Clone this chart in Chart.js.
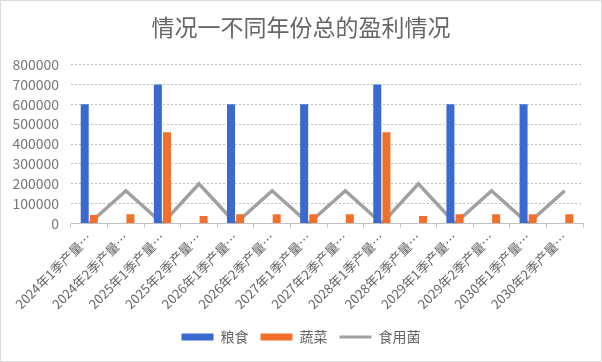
<!DOCTYPE html>
<html>
<head>
<meta charset="utf-8">
<script src="https://cdn.jsdelivr.net/npm/chart.js@4"></script>
<style>
html,body{margin:0;padding:0;background:#fff;}
#wrap{width:602px;height:362px;position:relative;}
</style>
</head>
<body>
<div id="wrap"><canvas id="c" width="602" height="362"></canvas></div>
<script>
const categories = ["2024年1季产量","2024年2季产量","2025年1季产量","2025年2季产量","2026年1季产量","2026年2季产量","2027年1季产量","2027年2季产量","2028年1季产量","2028年2季产量","2029年1季产量","2029年2季产量","2030年1季产量","2030年2季产量"];
const grain = [600000,0,700000,0,600000,0,600000,0,700000,0,600000,0,600000,0];
const vegetables = [43000,46000,460000,38000,46000,46000,46000,46000,460000,38000,46000,46000,46000,46000];
const mushrooms = [0,165000,0,200000,0,165000,0,165000,0,200000,0,165000,0,165000];
const yTicks = [0,100000,200000,300000,400000,500000,600000,700000,800000];

const FONT = '"Noto Sans CJK SC", "Liberation Sans", sans-serif';

const borderPlugin = {
  id: 'outerBorder',
  afterDraw(chart) {
    const ctx = chart.ctx;
    ctx.save();
    ctx.strokeStyle = '#b8b8b8';
    ctx.lineWidth = 1;
    ctx.setLineDash([1,1]);
    ctx.strokeRect(0.5, 0.5, chart.width - 1, chart.height - 1);
    ctx.restore();
  }
};

new Chart(document.getElementById('c'), {
  type: 'bar',
  data: {
    labels: categories,
    datasets: [
      { label: '粮食', data: grain, backgroundColor: '#3A6AD0', categoryPercentage: 0.5, barPercentage: 0.875 },
      { label: '蔬菜', data: vegetables, backgroundColor: '#F2702C', categoryPercentage: 0.5, barPercentage: 0.875 },
      { label: '食用菌', type: 'line', data: mushrooms, borderColor: '#A0A0A0', backgroundColor: '#A0A0A0', borderWidth: 3.5, pointRadius: 0, tension: 0 }
    ]
  },
  options: {
    responsive: false,
    animation: false,
    layout: { padding: { left: 0, right: 0, top: 0, bottom: 8 } },
    plugins: {
      title: {
        display: true,
        text: '情况一不同年份总的盈利情况',
        color: '#666666',
        font: { family: FONT, size: 23, weight: 'normal' },
        padding: { top: 13, bottom: 24 }
      },
      legend: {
        position: 'bottom',
        labels: {
          color: '#666666',
          font: { family: FONT, size: 14 },
          usePointStyle: true,
          pointStyleWidth: 32,
          boxHeight: 7,
          padding: 12,
          generateLabels(chart) {
            const items = Chart.defaults.plugins.legend.labels.generateLabels(chart);
            items.forEach((it) => {
              if (it.datasetIndex === 2) { it.pointStyle = 'line'; it.lineWidth = 3; it.strokeStyle = '#A0A0A0'; }
              else { it.pointStyle = 'rect'; it.lineWidth = 0; }
            });
            return items;
          }
        }
      },
      tooltip: { enabled: false }
    },
    scales: {
      x: {
        offset: true,
        afterFit(scale) { scale.height += 4; },
        grid: { display: true, drawOnChartArea: false, drawTicks: true, tickLength: 4, color: '#c0c0c0', offset: true },
        border: { display: true, color: '#c0c0c0', dash: [2,2] },
        ticks: {
          color: '#666666',
          font: { family: FONT, size: 13 },
          maxRotation: 45, minRotation: 45,
          autoSkip: false,
          padding: 2,
          callback(v, i) { return categories[i] + '…'; }
        }
      },
      y: {
        min: 0, max: 800000,
        afterBuildTicks(scale) { scale.ticks = yTicks.map(v => ({ value: v })); },
        afterFit(scale) { scale.width = 71; },
        grid: { color: '#c0c0c0', drawTicks: false },
        border: { display: false, dash: [2,2] },
        ticks: {
          color: '#777777',
          font: { family: FONT, size: 14 },
          padding: 12,
          autoSkip: false,
          callback(v) { return String(v); }
        }
      },
      spacer: {
        type: 'linear',
        position: 'right',
        min: 0, max: 1,
        afterFit(scale) { scale.width = 19; },
        grid: { display: false, drawTicks: false },
        border: { display: false },
        ticks: { display: false }
      }
    }
  },
  plugins: [borderPlugin]
});
</script>
</body>
</html>
